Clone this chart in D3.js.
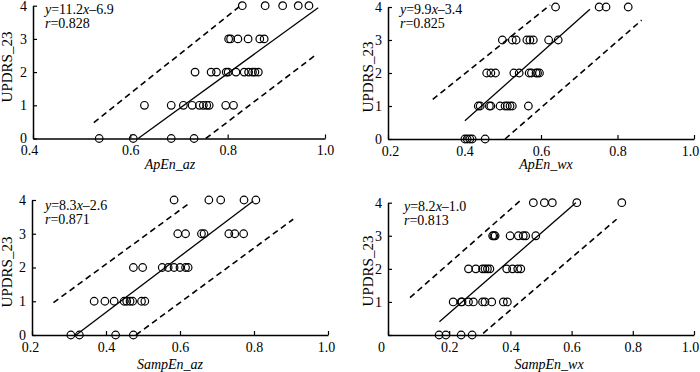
<!DOCTYPE html>
<html>
<head>
<meta charset="utf-8">
<script src="https://cdn.jsdelivr.net/npm/d3@7/dist/d3.min.js"></script>
<style>
  body { margin: 0; background: #fff; }
  svg { display: block; font-family: "Liberation Serif", "Times New Roman", serif; }
</style>
</head>
<body>
<svg id="chart" width="700" height="372"></svg>
<script>
// POINT X VALUES, ONE LIST PER UPDRS_23 SCORE (INDEX = SCORE 0..4)
var apenAz = [
   [0.536, 0.606, 0.684, 0.731],
   [0.629, 0.684, 0.709, 0.727, 0.742, 0.750, 0.757, 0.762, 0.796, 0.812],
   [0.733, 0.766, 0.777, 0.797, 0.801, 0.817, 0.834, 0.843, 0.851, 0.856, 0.863],
   [0.802, 0.806, 0.821, 0.842, 0.866, 0.875],
   [0.830, 0.877, 0.913, 0.945, 0.967]
];
var apenWx = [
   [0.401, 0.407, 0.414, 0.420, 0.454],
   [0.436, 0.441, 0.465, 0.469, 0.493, 0.506, 0.512, 0.519, 0.525, 0.567],
   [0.458, 0.469, 0.481, 0.529, 0.543, 0.569, 0.575, 0.587, 0.591, 0.596],
   [0.499, 0.525, 0.535, 0.563, 0.571, 0.580, 0.620, 0.645],
   [0.638, 0.752, 0.770, 0.828]
];
var sampenAz = [
   [0.305, 0.328, 0.426, 0.474],
   [0.368, 0.397, 0.422, 0.449, 0.456, 0.465, 0.472, 0.496, 0.505],
   [0.474, 0.499, 0.552, 0.568, 0.584, 0.600, 0.615, 0.622],
   [0.594, 0.615, 0.658, 0.665, 0.732, 0.748, 0.772],
   [0.584, 0.678, 0.710, 0.773, 0.805]
];
var sampenWx = [
   [0.167, 0.189, 0.239, 0.275],
   [0.213, 0.239, 0.242, 0.263, 0.279, 0.309, 0.317, 0.339, 0.377, 0.390],
   [0.263, 0.287, 0.309, 0.317, 0.325, 0.333, 0.388, 0.407, 0.424, 0.434],
   [0.342, 0.346, 0.350, 0.399, 0.426, 0.442, 0.450, 0.483],
   [0.475, 0.511, 0.537, 0.617, 0.764]
];

// FIT LINE AND DASHED BOUNDS, [[x1, y1], [x2, y2]]
var apenAzFit = [[0.616, 0], [0.986, 3.94]];
var apenAzUpper = [[0.525, 0.48], [0.829, 4.03]];
var apenAzLower = [[0.755, 0], [0.984, 2.55]];
var apenWxFit = [[0.401, 0.55], [0.728, 3.93]];
var apenWxUpper = [[0.317, 1.2], [0.624, 4.06]];
var apenWxLower = [[0.506, 0], [0.863, 3.6]];
var sampenAzFit = [[0.319, 0], [0.798, 3.97]];
var sampenAzUpper = [[0.258, 0.96], [0.621, 3.87]];
var sampenAzLower = [[0.481, 0], [0.906, 3.43]];
var sampenWxFit = [[0.168, 0.40], [0.614, 4.0]];
var sampenWxUpper = [[0.072, 1.13], [0.437, 4.1]];
var sampenWxLower = [[0.311, 0.05], [0.747, 3.5]];

// EQUATIONS: [SLOPE, INTERCEPT TEXT, R]
var equations = [['11.2', '6.9', '0.828'], ['9.9', '3.4', '0.825'], ['8.3', '2.6', '0.871'], ['8.2', '1.0', '0.813']];

// TICKS AND TITLES
var xTicksA = [0.4, 0.6, 0.8, 1.0];
var xTicksB = [0.2, 0.4, 0.6, 0.8, 1.0];
var xTicksC = [0, 0.2, 0.4, 0.6, 0.8, 1.0];
var yTicks = [0, 1, 2, 3, 4];
var xTitles = ['ApEn_az', 'ApEn_wx', 'SampEn_az', 'SampEn_wx'];
var yTitle = 'UPDRS_23';

// PANEL LAYOUT (POSITIONS ONLY)
var panels = [
   { rows: apenAz, fit: apenAzFit, up: apenAzUpper, lo: apenAzLower, eq: equations[0], title: xTitles[0],
     xd: [0.4, 1.0], xr: [33, 325], yr: [138.5, 5.7], xt: xTicksA, y0: true, firstDx: -4, lastDx: 0,
     eqx: 45, eqy: 14, tx: 170, ty: 169, lx: 12, ly: 67 },
   { rows: apenWx, fit: apenWxFit, up: apenWxUpper, lo: apenWxLower, eq: equations[1], title: xTitles[1],
     xd: [0.2, 1.0], xr: [388, 694], yr: [139, 7], xt: xTicksB, y0: true, firstDx: 2, lastDx: -4,
     eqx: 400, eqy: 14, tx: 546, ty: 169, lx: 373, ly: 77 },
   { rows: sampenAz, fit: sampenAzFit, up: sampenAzUpper, lo: sampenAzLower, eq: equations[2], title: xTitles[2],
     xd: [0.2, 1.0], xr: [32, 328], yr: [335, 200], xt: xTicksB, y0: true, firstDx: -2, lastDx: -2,
     eqx: 45, eqy: 210, tx: 170, ty: 369, lx: 12, ly: 272 },
   { rows: sampenWx, fit: sampenWxFit, up: sampenWxUpper, lo: sampenWxLower, eq: equations[3], title: xTitles[3],
     xd: [0, 1.0], xr: [388, 694], yr: [335, 202.7], xt: xTicksC, y0: false, firstDx: -7, lastDx: -4,
     eqx: 404, eqy: 211, tx: 549, ty: 369, lx: 373, ly: 271 }
];

var svg = d3.select('#chart');

panels.forEach((p) => {

   // SCALES
   var xScale = d3.scaleLinear().domain(p.xd).range(p.xr);
   var yScale = d3.scaleLinear().domain([0, 4]).range(p.yr);

   var g = svg.append('g');

   // X AXIS, TICKS POINT INWARD
   var xAxis = g.append('g')
      .attr('transform', 'translate(0,' + p.yr[0] + ')')
      .call(d3.axisBottom(xScale)
         .tickValues(p.xt)
         .tickFormat((d) => d === 0 ? '0' : d3.format('.1f')(d))
         .tickSizeInner(-4)
         .tickSizeOuter(0)
         .tickPadding(7));

   // Y AXIS
   var yAxis = g.append('g')
      .attr('transform', 'translate(' + p.xr[0] + ',0)')
      .call(d3.axisLeft(yScale)
         .tickValues(yTicks)
         .tickFormat((d) => (d === 0 && !p.y0) ? '' : d)
         .tickSizeInner(-4)
         .tickSizeOuter(0)
         .tickPadding(6));

   [xAxis, yAxis].forEach((a) => {
      a.attr('font-family', null).attr('font-size', null);
      a.select('.domain').attr('stroke', '#000').attr('stroke-width', 1.5);
      a.selectAll('.tick line').attr('stroke', '#000').attr('stroke-width', 1.2);
      a.selectAll('.tick text').attr('fill', '#000').style('font-size', '14px');
   });

   // NUDGE END LABELS LIKE THE ORIGINAL
   var xLabels = xAxis.selectAll('.tick text');
   xLabels.filter((d, i) => i === 0).attr('dx', p.firstDx);
   xLabels.filter((d, i, n) => i === n.length - 1).attr('dx', p.lastDx);

   // LINES
   var line = d3.line().x((d) => xScale(d[0])).y((d) => yScale(d[1]));

   g.append('path')
      .attr('d', line(p.fit))
      .attr('fill', 'none')
      .attr('stroke', '#000')
      .attr('stroke-width', 1.3);

   [p.up, p.lo].forEach((b) => {
      g.append('path')
         .attr('d', line(b))
         .attr('fill', 'none')
         .attr('stroke', '#000')
         .attr('stroke-width', 1.6)
         .attr('stroke-dasharray', '6,4');
   });

   // POINTS
   var pts = [];
   p.rows.forEach((row, score) => row.forEach((x) => pts.push([x, score])));

   g.selectAll('circle').data(pts).enter()
      .append('circle')
      .attr('cx', (d) => xScale(d[0]))
      .attr('cy', (d) => yScale(d[1]))
      .attr('r', 3.8)
      .attr('fill', 'none')
      .attr('stroke', '#000')
      .attr('stroke-width', 1.2);

   // EQUATION TEXT
   var eq = g.append('text')
      .attr('x', p.eqx)
      .attr('y', p.eqy)
      .style('font-size', '14px');
   eq.append('tspan').style('font-style', 'italic').text('y');
   eq.append('tspan').text('=' + p.eq[0]);
   eq.append('tspan').style('font-style', 'italic').text('x');
   eq.append('tspan').text('\u2013' + p.eq[1]);

   var rt = g.append('text')
      .attr('x', p.eqx)
      .attr('y', p.eqy + 14)
      .style('font-size', '14px');
   rt.append('tspan').style('font-style', 'italic').text('r');
   rt.append('tspan').text('=' + p.eq[2]);

   // AXIS TITLES
   g.append('text')
      .attr('x', p.tx)
      .attr('y', p.ty)
      .attr('text-anchor', 'middle')
      .style('font-size', '14px')
      .style('font-style', 'italic')
      .text(p.title);

   g.append('text')
      .attr('transform', 'translate(' + p.lx + ',' + p.ly + ') rotate(-90)')
      .attr('text-anchor', 'middle')
      .style('font-size', '15px')
      .text(yTitle);
});
</script>
</body>
</html>
